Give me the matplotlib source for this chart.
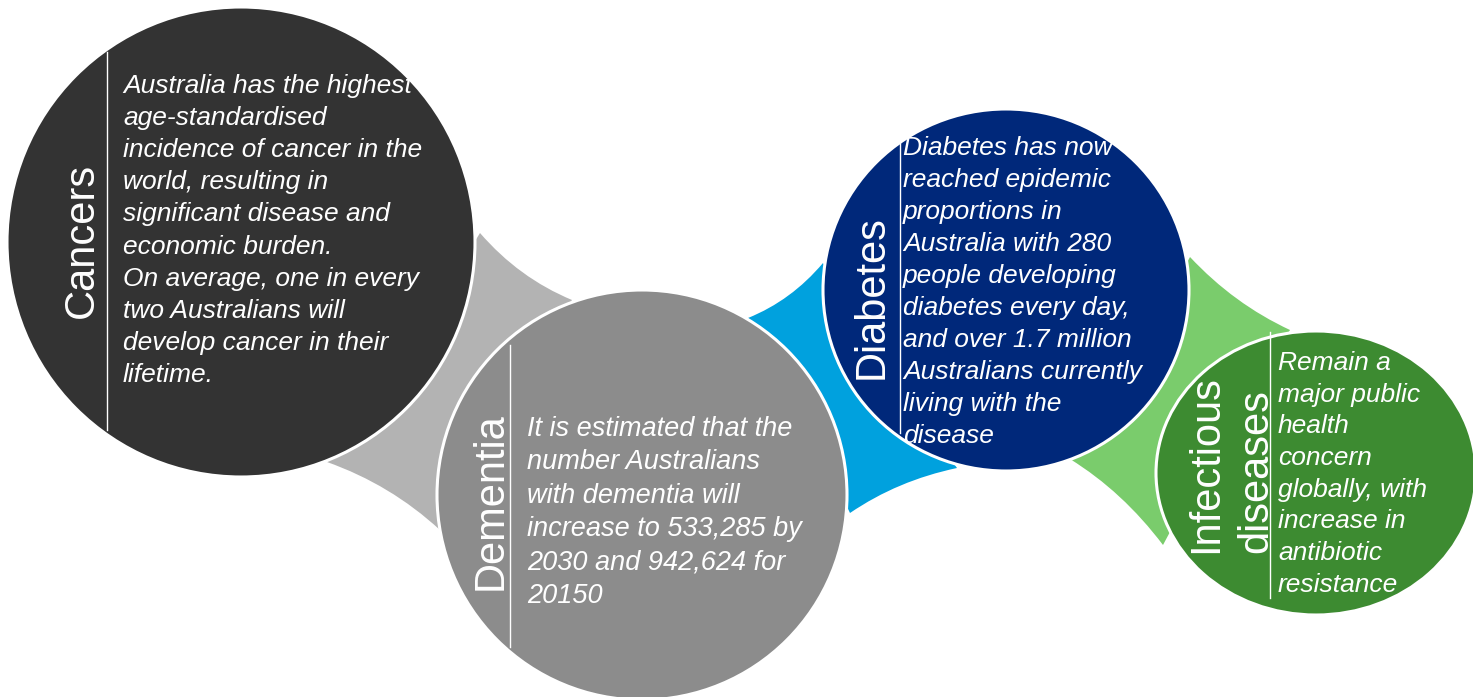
import matplotlib.pyplot as plt
from matplotlib.patches import Ellipse, PathPatch
from matplotlib.path import Path

plt.rcParams['font.family'] = ['Liberation Sans', 'DejaVu Sans']

# topics, left to right
titles = ['Cancers', 'Dementia', 'Diabetes', 'Infectious\ndiseases']

cancers_text = ['Australia has the highest',
                'age-standardised',
                'incidence of cancer in the',
                'world, resulting in',
                'significant disease and',
                'economic burden.',
                'On average, one in every',
                'two Australians will',
                'develop cancer in their',
                'lifetime.']

dementia_text = ['It is estimated that the',
                 'number Australians',
                 'with dementia will',
                 'increase to 533,285 by',
                 '2030 and 942,624 for',
                 '20150']

diabetes_text = ['Diabetes has now',
                 'reached epidemic',
                 'proportions in',
                 'Australia with 280',
                 'people developing',
                 'diabetes every day,',
                 'and over 1.7 million',
                 'Australians currently',
                 'living with the',
                 'disease']

infectious_text = ['Remain a',
                   'major public',
                   'health',
                   'concern',
                   'globally, with',
                   'increase in',
                   'antibiotic',
                   'resistance']

circle_colors = ['#333333', '#8c8c8c', '#00287a', '#3d8b31']
link_colors = ['#b3b3b3', '#00a1de', '#7acc6c']

# layout in pixel units (y grows downward)
circles = [  # cx, cy, width, height
    (241, 242, 468, 470),
    (642, 495, 410, 410),
    (1006, 290, 366, 362),
    (1316, 473, 320, 284),
]
links = [  # tips: top, right, bottom, left
    [(480, 233), (572, 300), (440, 530), (327, 462)],
    [(823, 263), (957, 468), (850, 513), (748, 318)],
    [(1190, 257), (1290, 330), (1163, 545), (1070, 459)],
]
dividers = [(107, 52, 430), (510, 345, 647), (900, 137, 433), (1270, 332, 598)]
title_pos = [(93, 240), (502, 501), (883, 297)]
body = [  # lines, x, first baseline, line step, font size
    (cancers_text, 123, 93, 32.1, 19),
    (dementia_text, 527, 436, 33.4, 19.5),
    (diabetes_text, 903, 155, 32.0, 19),
    (infectious_text, 1278, 370, 31.7, 19),
]

fig = plt.figure(figsize=(14.73, 6.97), dpi=100)
ax = fig.add_axes([0, 0, 1, 1])
ax.set_xlim(0, 1473)
ax.set_ylim(697, 0)
ax.axis('off')


def concave_link(tips, color, bend=0.1):
    cx = sum(p[0] for p in tips) / 4
    cy = sum(p[1] for p in tips) / 4
    verts = [tips[0]]
    codes = [Path.MOVETO]
    for i in range(4):
        a, b = tips[i], tips[(i + 1) % 4]
        mx, my = (a[0] + b[0]) / 2, (a[1] + b[1]) / 2
        ctrl = (mx + bend * (cx - mx), my + bend * (cy - my))
        verts += [ctrl, b]
        codes += [Path.CURVE3, Path.CURVE3]
    verts.append(tips[0])
    codes.append(Path.CLOSEPOLY)
    ax.add_patch(PathPatch(Path(verts, codes), facecolor=color,
                           edgecolor='none', zorder=1))


for tips, c in zip(links, link_colors):
    concave_link(tips, c)

for (cx, cy, w, h), c in zip(circles, circle_colors):
    ax.add_patch(Ellipse((cx, cy), w, h, facecolor=c, edgecolor='white',
                         linewidth=2.2, zorder=2))

for x, y0, y1 in dividers:
    ax.plot([x, x], [y0, y1], color='white', linewidth=1.0, zorder=3)

for (x, y), t in zip(title_pos, titles[:3]):
    ax.text(x, y, t, rotation=90, rotation_mode='anchor', ha='center',
            va='baseline', color='white', fontsize=30, zorder=4)

# two-line title, both lines start from the same point
for x, t in zip([1217, 1267], titles[3].split('\n')):
    ax.text(x, 553, t, rotation=90, rotation_mode='anchor', ha='left',
            va='baseline', color='white', fontsize=30, zorder=4)

for lines, x, y, step, size in body:
    for i, line in enumerate(lines):
        ax.text(x, y + i * step, line, ha='left', va='baseline',
                color='white', fontsize=size, style='italic', zorder=4)

plt.savefig('out.png', dpi=100)
